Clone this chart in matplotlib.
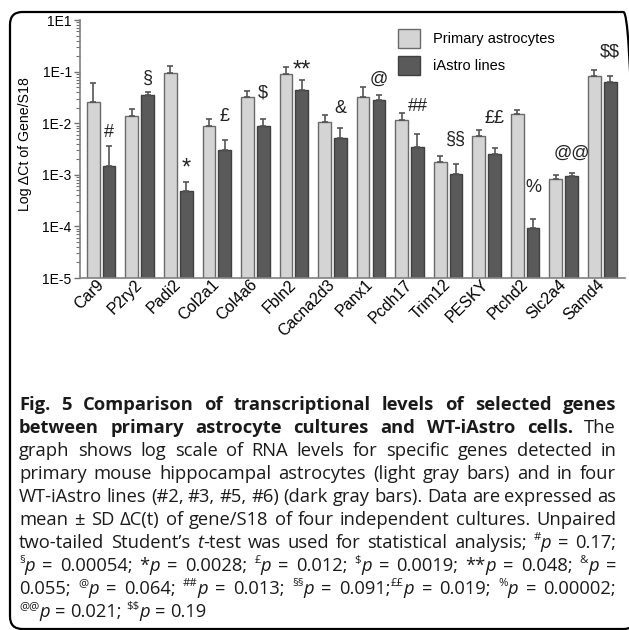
import numpy as np
import matplotlib.pyplot as plt
from matplotlib.patches import FancyBboxPatch, Patch
from matplotlib.transforms import ScaledTranslation

plt.rcParams['text.parse_math'] = False
plt.rcParams['font.family'] = ['Liberation Sans', 'DejaVu Sans']

# valores
genes = ["Car9", "P2ry2", "Padi2", "Col2a1", "Col4a6", "Fbln2", "Cacna2d3",
         "Panx1", "Pcdh17", "Trim12", "PESKY", "Ptchd2", "Slc2a4", "Samd4"]
primary = [0.026, 0.0138, 0.093, 0.0090, 0.0327, 0.090, 0.0106,
           0.0322, 0.0115, 0.00177, 0.00557, 0.0153, 0.00082, 0.082]
primary_sd = [0.033, 0.0048, 0.037, 0.0029, 0.010, 0.033, 0.0038,
              0.018, 0.004, 0.00051, 0.0018, 0.003, 0.00016, 0.024]
iastro = [0.00148, 0.0347, 0.000485, 0.00307, 0.00883, 0.044, 0.00509,
          0.0277, 0.00351, 0.00104, 0.00249, 0.000094, 0.00095, 0.0619]
iastro_sd = [0.0022, 0.005, 0.00025, 0.00165, 0.0034, 0.0247, 0.0029,
             0.007, 0.0027, 0.0006, 0.00087, 0.000043, 0.00013, 0.0192]
marks = ["#", "§", "*", "£", "$", "**", "&", "@", "##", "§§", "££", "%", "@@", "$$"]
mark_y = [0.0065, 0.075, 0.0013, 0.0132, 0.0385, 0.105, 0.0197,
          0.072, 0.0215, 0.0049, 0.0126, 0.00058, 0.0026, 0.24]
yticks = [1e-5, 1e-4, 1e-3, 1e-2, 1e-1, 1]
ytick_labels = ["1E-5", "1E-4", "1E-3", "1E-2", "1E-1", "1E1"]

W, H = 629, 630
fig = plt.figure(figsize=(W / 100, H / 100), dpi=100)
ax = fig.add_axes([80 / W, 1 - 278 / H, 545 / W, 258 / H])
ax.set_yscale('log')

x = np.arange(len(genes))
n = len(genes)
ax.bar(x - 0.205, primary, 0.33, yerr=[np.zeros(n), primary_sd],
       color='#d4d4d4', edgecolor='#6a6a6a', linewidth=1,
       error_kw=dict(ecolor='#555555', elinewidth=1.2, capsize=2.5, capthick=1.2))
ax.bar(x + 0.205, iastro, 0.33, yerr=[np.zeros(n), iastro_sd],
       color='#5a5a5a', edgecolor='#404040', linewidth=1,
       error_kw=dict(ecolor='#555555', elinewidth=1.2, capsize=2.5, capthick=1.2))

for i in range(n):
    fs = 17 if '*' in marks[i] else 13
    ax.text(x[i] + 0.205, mark_y[i], marks[i], ha='center', va='center',
            fontsize=fs, color='#222222')

ax.set_ylim(1e-5, 1)
ax.set_xlim(-0.55, n - 0.41)
ax.set_yticks(yticks)
ax.set_yticklabels(ytick_labels, fontsize=10)
ax.set_xticks(x)
ax.set_xticklabels(genes, rotation=45, ha='right', va='center',
                   rotation_mode='anchor', fontsize=11.5)
for lab in ax.get_xticklabels():
    lab.set_transform(lab.get_transform() + ScaledTranslation(13 / 100, 0, fig.dpi_scale_trans))
ax.tick_params(axis='x', length=0, pad=3)
ax.tick_params(axis='y', which='major', length=4, width=1, color='#707070', pad=2)
ax.tick_params(axis='y', which='minor', length=3, width=0.8, color='#707070')
for s in ['top', 'right']:
    ax.spines[s].set_visible(False)
for s in ['left', 'bottom']:
    ax.spines[s].set_color('#808080')
    ax.spines[s].set_linewidth(1.2)
ax.set_ylabel("Log ΔCt of Gene/S18", fontsize=10.2)
ax.yaxis.set_label_coords(-0.088, 0.521)

handles = [Patch(facecolor='#d4d4d4', edgecolor='#6a6a6a', label='Primary astrocytes'),
           Patch(facecolor='#5a5a5a', edgecolor='#404040', label='iAstro lines')]
ax.legend(handles=handles, loc='upper left', bbox_to_anchor=(0.56, 1.015),
          frameon=False, fontsize=10.5, handlelength=1.5, handleheight=1.6,
          handletextpad=0.9, labelspacing=0.55)

# moldura arredondada (lado direito fica fora da imagem)
box = FancyBboxPatch((10 / W, 1 - 629 / H), 626 / W, 617 / H,
                     boxstyle="round,pad=0,rounding_size=0.02",
                     transform=fig.transFigure, fill=False, lw=1.6,
                     edgecolor='black', clip_on=False)
fig.add_artist(box)

# legenda da figura (texto justificado)
cap_lines = [
    [("Fig. 5 Comparison of transcriptional levels of selected genes", 'b')],
    [("between primary astrocyte cultures and WT-iAstro cells.", 'b'), (" The", 'n')],
    [("graph shows log scale of RNA levels for specific genes detected in", 'n')],
    [("primary mouse hippocampal astrocytes (light gray bars) and in four", 'n')],
    [("WT-iAstro lines (#2, #3, #5, #6) (dark gray bars). Data are expressed as", 'n')],
    [("mean ± SD ΔC(t) of gene/S18 of four independent cultures. Unpaired", 'n')],
    [("two-tailed Student’s ", 'n'), ("t", 'i'), ("-test was used for statistical analysis; ", 'n'),
     ("#", 's'), ("p", 'i'), (" = 0.17;", 'n')],
    [("§", 's'), ("p", 'i'), (" = 0.00054; *", 'n'), ("p", 'i'), (" = 0.0028; ", 'n'),
     ("£", 's'), ("p", 'i'), (" = 0.012; ", 'n'), ("$", 's'), ("p", 'i'), (" = 0.0019; **", 'n'),
     ("p", 'i'), (" = 0.048; ", 'n'), ("&", 's'), ("p", 'i'), (" =", 'n')],
    [("0.055; ", 'n'), ("@", 's'), ("p", 'i'), (" = 0.064; ", 'n'), ("##", 's'), ("p", 'i'),
     (" = 0.013; ", 'n'), ("§§", 's'), ("p", 'i'), (" = 0.091;", 'n'), ("££", 's'), ("p", 'i'),
     (" = 0.019; ", 'n'), ("%", 's'), ("p", 'i'), (" = 0.00002;", 'n')],
    [("@@", 's'), ("p", 'i'), (" = 0.021; ", 'n'), ("$$", 's'), ("p", 'i'), (" = 0.19", 'n')],
]
cap_y = [410, 433, 456, 479, 502, 525, 548, 571, 594, 617]
cap_size = 12
cap_x0, cap_x1 = 19, 616

fig.canvas.draw()
r = fig.canvas.get_renderer()


def make_text(txt, st, size):
    kw = dict(fontsize=size, family='Open Sans', color='#1a1a1a', va='baseline')
    if st == 'b':
        kw['weight'] = 'bold'
    if st == 'i':
        kw['style'] = 'italic'
    if st == 's':
        kw['fontsize'] = size * 0.62
    t = fig.text(0, 0, txt, **kw)
    return t, t.get_window_extent(r).width


def split_words(line):
    words = [[]]
    for txt, st in line:
        pieces = txt.split(' ')
        for k, p in enumerate(pieces):
            if k > 0:
                words.append([])
            if p:
                words[-1].append((p, st))
    return [w for w in words if w]


def space_width(size):
    a, wa = make_text("a a", 'n', size)
    b, wb = make_text("aa", 'n', size)
    a.remove()
    b.remove()
    return wa - wb


# primeiro mede no tamanho base para achar o tamanho que enche as linhas
sp = space_width(cap_size)
ratios = []
for line in cap_lines[:-1]:
    ws = split_words(line)
    tot = 0
    for w in ws:
        for p, st in w:
            t, tw = make_text(p, st, cap_size)
            tot += tw
            t.remove()
    ratios.append((cap_x1 - cap_x0) / (tot + sp * (len(ws) - 1)))
cap_size = cap_size * min(ratios) * 0.995
sp = space_width(cap_size)

for line, yb in zip(cap_lines, cap_y):
    words = split_words(line)
    placed = []
    for w in words:
        placed.append([make_text(p, st, cap_size) + (st,) for p, st in w])
    widths = [sum(p[1] for p in w) for w in placed]
    last = line is cap_lines[-1]
    gap = sp if last else (cap_x1 - cap_x0 - sum(widths)) / (len(widths) - 1)
    xp = cap_x0
    for w, ww in zip(placed, widths):
        xx = xp
        for t, tw, st in w:
            dy = 0.45 * cap_size * 100 / 72 if st == 's' else 0
            t.set_position((xx / W, 1 - (yb - dy) / H))
            xx += tw
        xp += ww + gap

fig.savefig("out.png", dpi=100)
